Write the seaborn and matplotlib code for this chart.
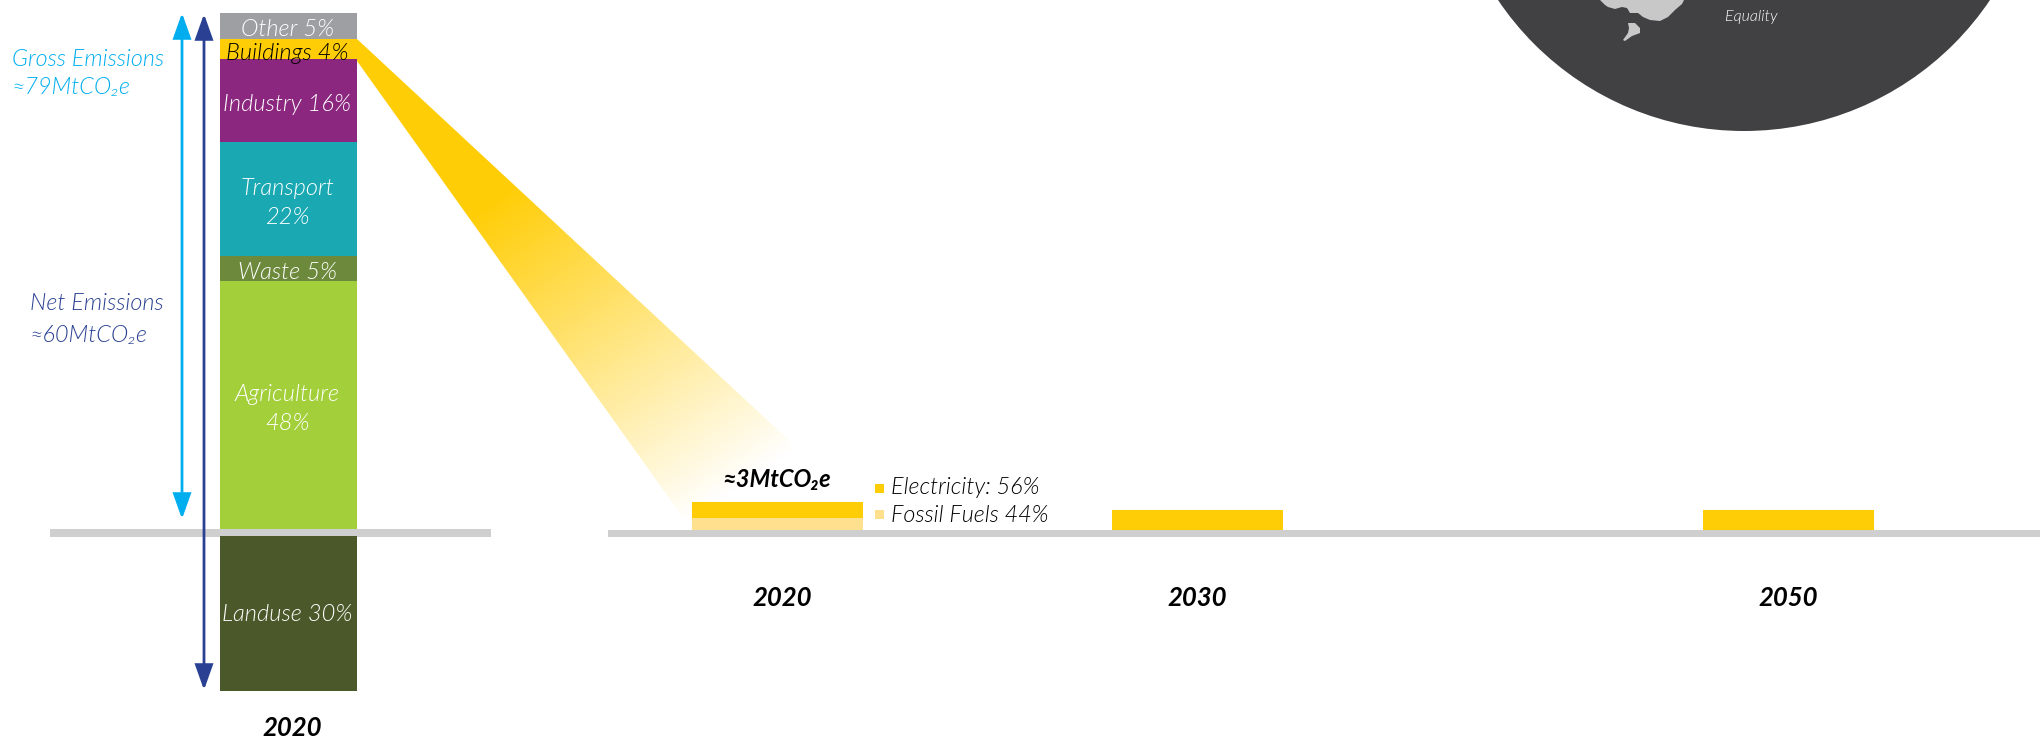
import numpy as np
import matplotlib
matplotlib.use("Agg")
import matplotlib.pyplot as plt
from matplotlib.patches import Circle, Polygon, Rectangle
from matplotlib.colors import to_rgb
import seaborn as sns

# Gross emission shares, stacked upward from the baseline
SECTORS = ["Agriculture", "Waste", "Transport", "Industry", "Buildings", "Other"]
SHARES = [48, 5, 22, 16, 4, 5]
SECTOR_COLORS = ["#A3CF3A", "#6D8A3C", "#1AA9B3", "#8B277F", "#FFCD05", "#9D9FA2"]
SECTOR_LABELS = ["Agriculture\n48%", "Waste 5%", "Transport\n22%", "Industry 16%", "Buildings 4%", "Other 5%"]
SECTOR_TEXT = ["white", "white", "white", "white", "black", "white"]
LANDUSE_SHARE = -30
LANDUSE_COLOR = "#4B5829"
LANDUSE_LABEL = "Landuse 30%"

# Buildings pathway, MtCO2e
YEARS = ["2020", "2030", "2050"]
ELECTRICITY = [1.68, 2.1, 2.1]
FOSSIL = [1.32, 0, 0]
ELEC_COLOR = "#FFCD05"
FOSSIL_COLOR = "#FFE08F"

W, H = 2044, 741
sns.set_style("white")
plt.rcParams["font.family"] = ["Lato", "DejaVu Sans"]

fig = plt.figure(figsize=(W / 100, H / 100), dpi=100, facecolor="white")


def px_axes(left, right, top, bottom, **kw):
    """Axes placed by pixel edges measured from the top-left of the figure."""
    return fig.add_axes([left / W, 1 - bottom / H, (right - left) / W, (bottom - top) / H], **kw)


# Backdrop layer in figure pixels: globe, baselines, arrows, spotlight
bg = px_axes(0, W, 0, H, zorder=0)
bg.set_xlim(0, W)
bg.set_ylim(H, 0)
bg.axis("off")

light = dict(style="italic", fontweight=300)
bold = dict(style="italic", fontweight="bold", color="black")

bg.add_patch(Circle((1744, -165.5), 296.5, fc="#414042", ec="none", zorder=1))
land = [(1600, 0), (1605, 5), (1608, 7), (1615, 9), (1622, 7), (1627, 8), (1630, 13), (1638, 13),
        (1643, 17), (1650, 20), (1660, 21), (1668, 17), (1675, 10), (1682, 4), (1684, 0)]
island = [(1628, 23), (1635, 23), (1640, 28), (1640, 33), (1632, 36), (1625, 41), (1623, 40),
          (1628, 33), (1629, 28)]
bg.add_patch(Polygon(land, fc="#C8C8C8", ec="none", zorder=2))
bg.add_patch(Polygon(island, fc="#C8C8C8", ec="none", zorder=2))
bg.text(1751, 17, "Equality", color="white", fontsize=11.5, ha="center", va="center", zorder=3, **light)

# Spotlight from the Buildings segment down to the 2020 pathway bar
yy, xx = np.mgrid[0:H, 0:W]
along = ((xx - 357) * 73 + (yy - 50) * 107) / 129.5
alpha = np.clip((577 - along) / (577 - 200), 0, 1)
rgba = np.zeros((H, W, 4))
rgba[..., :3] = to_rgb(ELEC_COLOR)
rgba[..., 3] = alpha
img = bg.imshow(rgba, extent=(0, W, H, 0), origin="upper", aspect="auto", zorder=1.5, interpolation="bilinear")
beam = Polygon([(357, 39), (863, 509), (692, 530), (357, 61)], transform=bg.transData, fc="none", ec="none")
bg.add_patch(beam)
img.set_clip_path(beam)
bg.set_xlim(0, W)
bg.set_ylim(H, 0)

bg.add_patch(Rectangle((50, 529), 441, 8, fc="#CFCFCF", ec="none", zorder=2))
bg.add_patch(Rectangle((608, 530), 1432, 7, fc="#CFCFCF", ec="none", zorder=2))


def span_arrow(x, y0, y1, color):
    bg.annotate("", xy=(x, y0), xytext=(x, y1), zorder=4,
                arrowprops=dict(arrowstyle="<|-|>,head_length=0.9,head_width=0.32", color=color,
                                lw=2.0, shrinkA=0, shrinkB=0, mutation_scale=17, joinstyle="miter"))


span_arrow(182, 13, 519, "#00AEEF")
span_arrow(204, 14, 690, "#2A4193")

bg.text(12, 59, "Gross Emissions", color="#00AEEF", fontsize=16.8, va="center", **light)
bg.text(12, 88, "≈79MtCO₂e", color="#00AEEF", fontsize=16.8, va="center", **light)
bg.text(30, 304, "Net Emissions", color="#2A4193", fontsize=16.8, va="center", **light)
bg.text(30, 335, "≈60MtCO₂e", color="#2A4193", fontsize=16.8, va="center", **light)

# Stacked 2020 sector column: percent scale with zero at the top of the baseline
ax = px_axes(220, 357, 13, 692, zorder=2)
ax.patch.set_alpha(0)
PX_PER_PCT = 516 / sum(SHARES)
baseline_gap = 7 / PX_PER_PCT
flat = dict(saturation=1, width=1, linewidth=0, edgecolor="none")
bottoms = np.concatenate([[0], np.cumsum(SHARES)[:-1]])
for share, floor, color, label, tc in zip(SHARES, bottoms, SECTOR_COLORS, SECTOR_LABELS, SECTOR_TEXT):
    sns.barplot(x=["2020"], y=[share], bottom=floor, color=color, ax=ax, **flat)
    ax.annotate(label, xy=(0, floor + share / 2), xytext=(-1, -4), textcoords="offset pixels", color=tc,
                fontsize=17, ha="center", va="center", linespacing=1.5, **light)
sns.barplot(x=["2020"], y=[LANDUSE_SHARE], bottom=-baseline_gap, color=LANDUSE_COLOR, ax=ax, **flat)
ax.annotate(LANDUSE_LABEL, xy=(0, LANDUSE_SHARE / 2 - baseline_gap), xytext=(-1, -1), textcoords="offset pixels",
            color="white", fontsize=17, ha="center", va="center", **light)
ax.set_xlim(-0.5, 0.5)
ax.set_ylim(-(692 - 529) / PX_PER_PCT, 100)
ax.axis("off")
ax.annotate("2020", xy=(0.5, 0), xycoords="axes fraction", xytext=(4, -36), textcoords="offset pixels",
            ha="center", va="center", fontsize=18.5, annotation_clip=False, **bold)

# Pathway bars: one small axes per milestone year, same Mt scale throughout
PATH_EDGES = [(692, 863), (1112, 1283), (1703, 1874)]
LABEL_SHIFT = [4.5, 0, 0]
PX_PER_MT = 28 / 3
for year, elec, fossil, (x0, x1), shift in zip(YEARS, ELECTRICITY, FOSSIL, PATH_EDGES, LABEL_SHIFT):
    pax = px_axes(x0, x1, 495, 530, zorder=2)
    pax.patch.set_alpha(0)
    sns.barplot(x=[year], y=[fossil], color=FOSSIL_COLOR, ax=pax, **flat)
    sns.barplot(x=[year], y=[elec], bottom=fossil, color=ELEC_COLOR, ax=pax, **flat)
    pax.set_xlim(-0.5, 0.5)
    pax.set_ylim(0, 35 / PX_PER_MT)
    pax.axis("off")
    pax.annotate(year, xy=(0.5, 0), xycoords="axes fraction", xytext=(shift, -68), textcoords="offset pixels",
                 ha="center", va="center", fontsize=18.5, annotation_clip=False, **bold)

bg.text(777, 479, "≈3MtCO₂e", fontsize=17, ha="center", va="center", zorder=4, **bold)

# Fuel key beside the 2020 bar
bg.add_patch(Rectangle((875, 484), 9, 9, fc=ELEC_COLOR, ec="none", zorder=3))
bg.add_patch(Rectangle((875, 510), 9, 9, fc=FOSSIL_COLOR, ec="none", zorder=3))
bg.text(891, 487, "Electricity: 56%", color="black", fontsize=16.8, va="center", **light)
bg.text(891, 516, "Fossil Fuels 44%", color="black", fontsize=16.8, va="center", **light)

fig.savefig("out.png", dpi=100, facecolor="white")
